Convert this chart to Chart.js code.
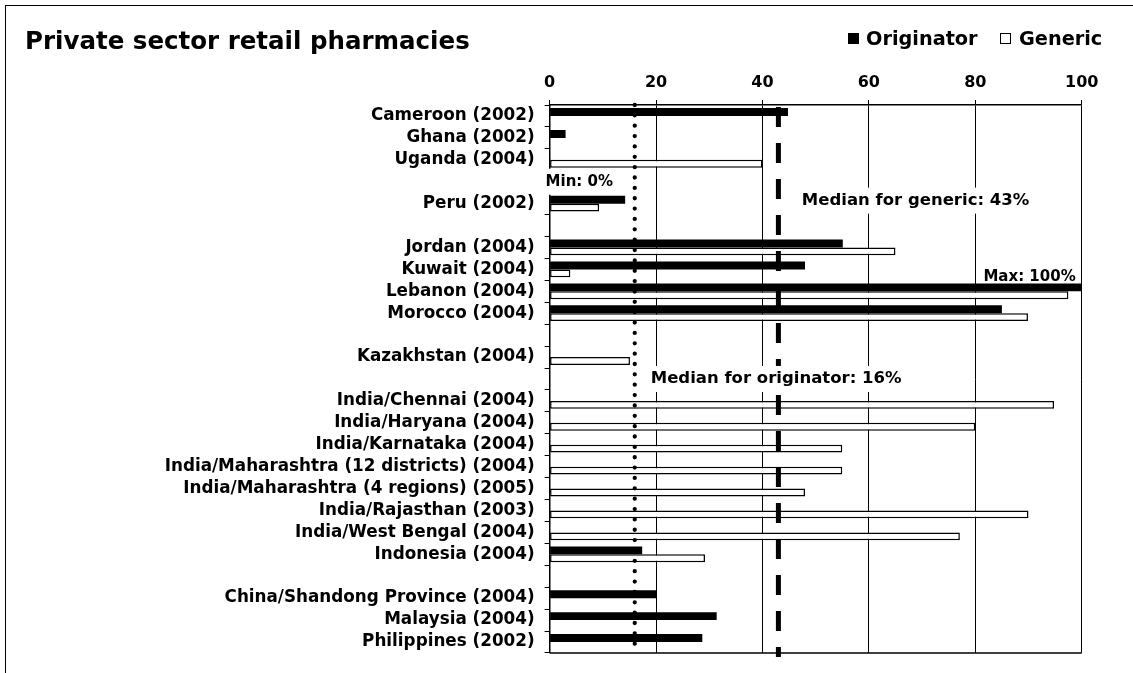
<!DOCTYPE html>
<html>
<head>
<meta charset="utf-8">
<script src="https://cdn.jsdelivr.net/npm/chart.js@4"></script>
<style>
  body { margin: 0; background: #fff; }
  #wrap { position: relative; width: 1133px; height: 673px; font-family: 'DejaVu Sans', Verdana, sans-serif; font-weight: bold; color: #000; }
  #frame { position: absolute; left: 5px; top: 5px; right: 0; bottom: 0; border-left: 1.5px solid #000; border-top: 1.5px solid #000; pointer-events: none; }
  #title { position: absolute; left: 25px; top: 29px; font-size: 24.5px; line-height: 24px; white-space: nowrap; }
  .key { position: absolute; top: 29px; font-size: 19.3px; line-height: 19px; white-space: nowrap; }
  .box { position: absolute; top: 33px; width: 11px; height: 11px; box-sizing: border-box; border: 1px solid #000; }
</style>
</head>
<body>
<div id="wrap">
  <canvas id="chart" width="1133" height="673"></canvas>
  <div id="frame"></div>
  <div id="title">Private sector retail pharmacies</div>
  <div class="box" style="left:848px;background:#000"></div>
  <div class="key" style="left:866px">Originator</div>
  <div class="box" style="left:1000px;background:#fff"></div>
  <div class="key" style="left:1019px">Generic</div>
</div>
<script>
var categories = [
	'Cameroon (2002)', 'Ghana (2002)', 'Uganda (2004)', '', 'Peru (2002)', '',
	'Jordan (2004)', 'Kuwait (2004)', 'Lebanon (2004)', 'Morocco (2004)', '',
	'Kazakhstan (2004)', '',
	'India/Chennai (2004)', 'India/Haryana (2004)', 'India/Karnataka (2004)',
	'India/Maharashtra (12 districts) (2004)', 'India/Maharashtra (4 regions) (2005)',
	'India/Rajasthan (2003)', 'India/West Bengal (2004)', 'Indonesia (2004)', '',
	'China/Shandong Province (2004)', 'Malaysia (2004)', 'Philippines (2002)'
];

var originator = [44.8, 3, null, null, 14.2, null, 55.1, 48, 100, 85, null, null, null,
	null, null, null, null, null, null, null, 17.4, null, 20, 31.4, 28.7];

var generic = [null, null, 40, null, 9.3, null, 65, 3.9, 97.5, 89.9, null, 15.1, null,
	94.8, 80, 55, 55, 48, 90, 77.1, 29.2, null, null, null, null];

var xTicks = [0, 20, 40, 60, 80, 100];

var medianOriginator = 16;
var medianGeneric = 43;
var minValue = 0;
var maxValue = 100;

var fontFamily = "'DejaVu Sans', Verdana, sans-serif";

// median lines plus the min / max / median notes
var notesPlugin = {
	id: 'notes',
	afterDatasetsDraw: function(chart) {
		var ctx = chart.ctx;
		var area = chart.chartArea;
		var x = chart.scales.x;
		var y = chart.scales.y;

		ctx.save();

		// frame bottom
		ctx.strokeStyle = '#000';
		ctx.lineWidth = 1.5;
		ctx.beginPath();
		ctx.moveTo(area.left, area.bottom);
		ctx.lineTo(area.right, area.bottom);
		ctx.stroke();

		// generic median, dashed
		var gx = x.getPixelForValue(medianGeneric);
		ctx.lineWidth = 5;
		ctx.setLineDash([20, 16]);
		ctx.beginPath();
		ctx.moveTo(gx, area.top + 2);
		ctx.lineTo(gx, area.bottom + 4);
		ctx.stroke();

		// originator median, dotted
		var ox = x.getPixelForValue(medianOriginator);
		ctx.lineWidth = 4.3;
		ctx.lineCap = 'round';
		ctx.setLineDash([0, 10.36]);
		ctx.beginPath();
		ctx.moveTo(ox, area.top);
		ctx.lineTo(ox, area.bottom - 2);
		ctx.stroke();
		ctx.setLineDash([]);
		ctx.lineCap = 'butt';

		function note(text, size, left, midY, boxed) {
			ctx.font = 'bold ' + size + 'px ' + fontFamily;
			var w = ctx.measureText(text).width;
			if (boxed) {
				ctx.fillStyle = '#fff';
				ctx.fillRect(left - 5, midY - 13, w + 10, 26);
			}
			ctx.fillStyle = '#000';
			ctx.textBaseline = 'middle';
			ctx.textAlign = 'left';
			ctx.fillText(text, left, midY);
		}

		note('Min: ' + minValue + '%', 15, x.getPixelForValue(minValue) - 4, y.getPixelForValue(3), true);
		note('Median for generic: ' + medianGeneric + '%', 16.5, x.getPixelForValue(47.4), y.getPixelForValue(4) - 3, true);
		note('Median for originator: ' + medianOriginator + '%', 16.5, ox + 16, y.getPixelForValue(12), true);

		ctx.font = 'bold 15px ' + fontFamily;
		var maxText = 'Max: ' + maxValue + '%';
		var mw = ctx.measureText(maxText).width;
		note(maxText, 15, x.getPixelForValue(maxValue) - 6 - mw, y.getPixelForValue(8) - 14, false);

		ctx.restore();
	}
};

var context = document.getElementById('chart').getContext('2d');
var chart = new Chart(context, {
	type: 'bar',
	data: {
		labels: categories,
		datasets: [{
			label: 'Originator',
			data: originator,
			backgroundColor: '#000',
			borderWidth: 0
		}, {
			label: 'Generic',
			data: generic,
			backgroundColor: '#fff',
			borderColor: '#000',
			borderWidth: 1.5,
			borderSkipped: false
		}]
	},
	options: {
		indexAxis: 'y',
		responsive: false,
		animation: false,
		categoryPercentage: 0.72,
		barPercentage: 1,
		layout: { padding: { left: 0, top: 0, right: 51.3, bottom: 15 } },
		plugins: {
			legend: { display: false },
			tooltip: { enabled: false }
		},
		scales: {
			x: {
				position: 'top',
				min: 0,
				max: 100,
				afterBuildTicks: function(scale) {
					scale.ticks = xTicks.map(function(v) { return { value: v }; });
				},
				afterFit: function(scale) { scale.height = 105; },
				ticks: {
					color: '#000',
					padding: 8,
					font: { family: fontFamily, weight: 'bold', size: 16 }
				},
				grid: { color: '#000', lineWidth: 1, tickLength: 5 },
				border: { color: '#000', width: 1.5 }
			},
			y: {
				afterFit: function(scale) { scale.width = 549.6; },
				ticks: {
					color: '#000',
					autoSkip: false,
					padding: 10,
					font: { family: fontFamily, weight: 'bold', size: 16.8 }
				},
				grid: { drawOnChartArea: false, color: '#000', tickLength: 5 },
				border: { color: '#000', width: 1.5 }
			}
		}
	},
	plugins: [notesPlugin]
});
</script>
</body>
</html>
